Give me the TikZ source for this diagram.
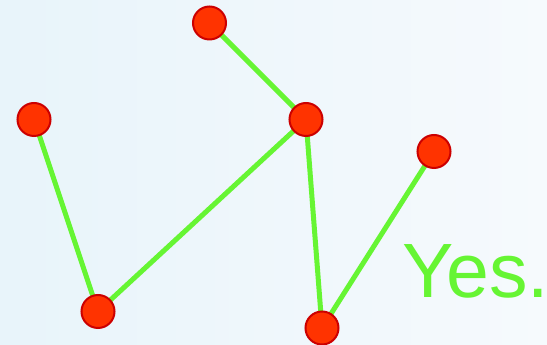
\documentclass[tikz,border=0pt]{standalone}
\usepackage{fontspec}
\setmainfont{Liberation Sans}
\definecolor{dotfill}{HTML}{FF3300}
\definecolor{dotline}{HTML}{CC0000}
\definecolor{linkgreen}{HTML}{66F533}
\definecolor{bgleft}{HTML}{E8F4FA}
\definecolor{bgright}{HTML}{F6FAFD}
\tikzset{
  dot/.style={circle, fill=dotfill, draw=dotline, line width=2pt, minimum size=33pt, inner sep=0pt},
  link/.style={draw=linkgreen, line width=5pt},
}
\begin{document}
\begin{tikzpicture}[x=1pt,y=1pt]
\shade[left color=bgleft, right color=bgright] (0,0) rectangle (547,345);
\useasboundingbox (0,0) rectangle (547,345);
\coordinate (pA) at (34,225.5);
\coordinate (pB) at (98,33.5);
\coordinate (pC) at (306,225.5);
\coordinate (pD) at (209.5,322);
\coordinate (pE) at (322,17);
\coordinate (pF) at (434,193.5);
\draw[link] (pA) -- (pB);
\draw[link] (pB) -- (pC);
\draw[link] (pC) -- (pD);
\draw[link] (pC) -- (pE);
\draw[link] (pE) -- (pF);
\node[dot] (A) at (pA) {};
\node[dot] (B) at (pB) {};
\node[dot] (C) at (pC) {};
\node[dot] (D) at (pD) {};
\node[dot] (E) at (pE) {};
\node[dot] (F) at (pF) {};
\node[anchor=base west, inner sep=0pt, text=linkgreen, font=\fontsize{77}{80}\selectfont] (yes) at (402,47) {Yes.};
\end{tikzpicture}
\end{document}
